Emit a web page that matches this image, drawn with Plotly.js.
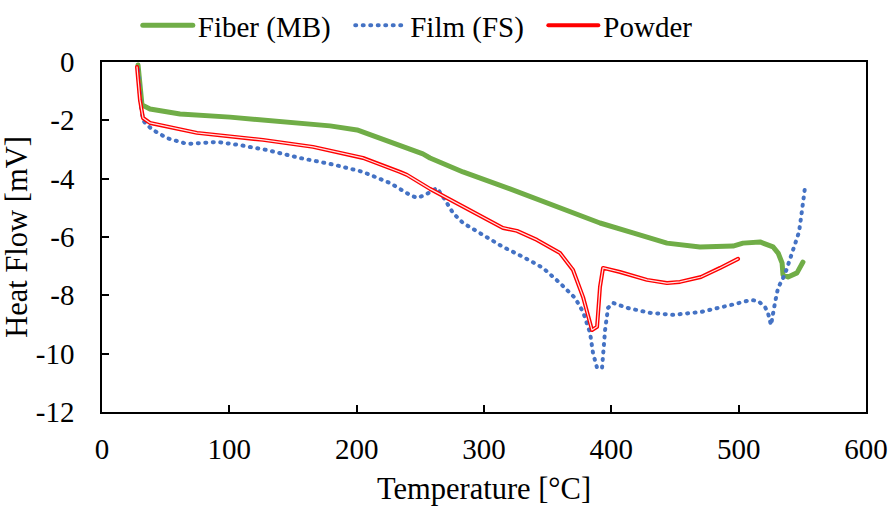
<!DOCTYPE html>
<html>
<head>
<meta charset="utf-8">
<script src="https://cdn.plot.ly/plotly-3.0.1.min.js"></script>
<style>
html,body{margin:0;padding:0;background:#fff;}
#chart{width:889px;height:508px;}
.js-line{stroke-linecap:round;stroke-linejoin:round;}
.main-svg text{font-family:'Liberation Serif','Times New Roman',serif !important;}
</style>
</head>
<body>
<div id="chart"></div>
<script>
// Fiber (MB)
const fiberT = [28.3,31.4,37.7,61.3,100.5,139.8,179.1,200.3,218.3,244.2,252.0,257.6,283.5,320.4,357.3,391.1,417.0,443.7,469.6,495.6,503.4,516.8,527.0,531.0,534.1,534.8,538.8,545.8,550.5];
const fiberV = [-0.10,-1.47,-1.61,-1.78,-1.89,-2.06,-2.19,-2.33,-2.61,-3.02,-3.15,-3.29,-3.77,-4.35,-4.97,-5.52,-5.86,-6.21,-6.34,-6.31,-6.21,-6.17,-6.34,-6.55,-6.89,-7.30,-7.37,-7.23,-6.86];
// Film (FS)
const filmT = [28.3,30.6,32.2,35.0,40.1,51.0,66.8,79.3,90.3,108.4,129.6,155.5,183.0,205.0,226.2,241.9,247.4,253.7,263.1,269.4,275.7,283.5,299.2,314.9,330.6,346.3,359.7,371.5,377.8,383.3,385.6,388.8,392.7,393.5,395.1,397.4,401.3,412.3,430.4,448.4,470.4,494.0,509.7,515.2,520.7,523.0,525.4,528.5,530.9,536.4,541.9,547.4,549.8,552.1];
const filmV = [-0.27,-1.54,-1.99,-2.15,-2.33,-2.61,-2.81,-2.78,-2.74,-2.85,-3.02,-3.29,-3.53,-3.77,-4.15,-4.56,-4.66,-4.56,-4.32,-4.73,-5.18,-5.52,-5.93,-6.34,-6.68,-7.06,-7.58,-8.09,-8.57,-9.29,-9.98,-10.49,-10.49,-9.98,-9.19,-8.43,-8.26,-8.43,-8.60,-8.67,-8.57,-8.33,-8.16,-8.19,-8.40,-8.60,-9.02,-8.26,-7.75,-7.27,-6.58,-5.83,-5.07,-4.29];
// Powder
const powderT = [27.5,29.8,32.2,37.7,74.6,126.4,165.7,205.0,234.0,239.5,257.6,289.0,314.9,325.9,341.6,359.7,369.9,377.8,384.8,388.8,391.1,393.5,406.8,428.0,443.7,453.9,470.4,485.4,499.5];
const powderV = [-0.17,-1.30,-1.92,-2.09,-2.43,-2.67,-2.91,-3.29,-3.77,-3.87,-4.35,-5.07,-5.69,-5.79,-6.10,-6.55,-7.13,-8.06,-9.19,-9.08,-7.71,-7.06,-7.20,-7.47,-7.58,-7.54,-7.37,-7.06,-6.75];

const seriesNames = ['Fiber (MB)', 'Film (FS)', 'Powder'];
const xTickVals = [0,100,200,300,400,500,600];
const xTickText = ['0','100','200','300','400','500','600'];
const yTickVals = [0,-2,-4,-6,-8,-10,-12];
const yTickText = ['0','-2','-4','-6','-8','-10','-12'];

const SERIF = 'Liberation Serif';
const PAD = '\u00A0\u00A0';

const traces = [
  {x: fiberT, y: fiberV, name: seriesNames[0] + PAD, mode: 'lines',
   line: {color: '#70AD47', width: 5}},
  {x: filmT, y: filmV, name: seriesNames[1] + PAD, mode: 'lines',
   line: {color: '#4472C4', width: 4, dash: '1px,6.5px'}},
  {x: powderT, y: powderV, name: seriesNames[2], mode: 'lines',
   line: {color: '#FF0000', width: 4}},
  {x: powderT, y: powderV, name: seriesNames[2], mode: 'lines', showlegend: false,
   line: {color: '#FFE4E4', width: 1.2}, hoverinfo: 'skip'}
];

const layout = {
  width: 889, height: 508,
  margin: {l: 102, r: 23, t: 62, b: 96, pad: 0},
  paper_bgcolor: '#fff', plot_bgcolor: '#fff',
  font: {family: SERIF, size: 29, color: '#000'},
  showlegend: true,
  legend: {orientation: 'h', xref: 'container', yref: 'container',
    x: 0.155, xanchor: 'left', y: 1.0, yanchor: 'top',
    font: {family: SERIF, size: 29, color: '#000'}, itemwidth: 50,
    bgcolor: 'rgba(0,0,0,0)'},
  xaxis: {range: [0, 600], tickvals: xTickVals, ticktext: xTickText,
    ticks: 'inside', ticklen: 7, tickwidth: 1.5, tickcolor: '#000',
    showline: true, linecolor: '#000', linewidth: 1.5, mirror: true,
    showgrid: false, zeroline: false, ticklabelstandoff: 10,
    tickfont: {family: SERIF, size: 29, color: '#000'},
    title: {text: 'Temperature [°C]', font: {family: SERIF, size: 30.5, color: '#000'}, standoff: 14}},
  yaxis: {range: [-12, 0], tickvals: yTickVals, ticktext: yTickText,
    ticks: 'inside', ticklen: 7, tickwidth: 1.5, tickcolor: '#000',
    showline: true, linecolor: '#000', linewidth: 1.5, mirror: true,
    showgrid: false, zeroline: false, ticklabelstandoff: 20,
    tickfont: {family: SERIF, size: 29, color: '#000'},
    title: {text: 'Heat Flow [mV]', font: {family: SERIF, size: 30.5, color: '#000'}, standoff: 12}}
};

Plotly.newPlot('chart', traces, layout, {displayModeBar: false});
</script>
</body>
</html>
